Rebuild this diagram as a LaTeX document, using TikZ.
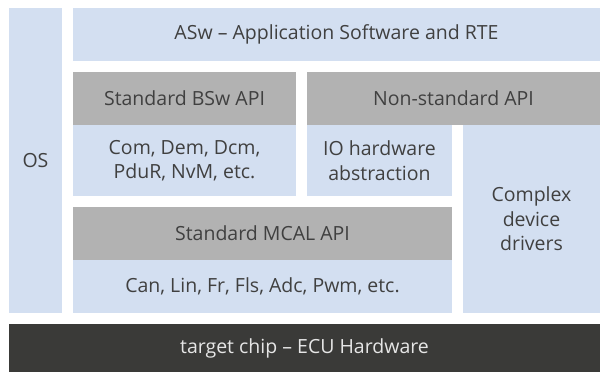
\documentclass[tikz,border=0pt]{standalone}
\usepackage{fontspec}
\setmainfont{Open Sans}
\definecolor{lblue}{HTML}{D3DFF1}
\definecolor{mgray}{HTML}{B2B2B2}
\definecolor{dgray}{HTML}{3A3A38}
\definecolor{tgray}{HTML}{404040}
\definecolor{wtxt}{HTML}{E6E6E6}
\begin{document}
\begin{tikzpicture}[x=1pt,y=-1pt,
  blk/.style={anchor=north west, inner sep=0pt, outer sep=0pt, text=tgray,
    font=\fontsize{19.5}{24.5}\selectfont, align=center},
  lb/.style={blk, fill=lblue},
  gb/.style={blk, fill=mgray},
  db/.style={blk, fill=dgray, text=wtxt}]
\useasboundingbox[fill=white] (0,0) rectangle (600,372);
\node[lb, minimum width=53pt, minimum height=305pt] (os) at (9,8) {OS};
\node[lb, minimum width=527pt, minimum height=53pt] (asw) at (73,8) {ASw -- Application Software and RTE};
\node[gb, minimum width=223pt, minimum height=53pt] (bsw) at (73,72) {Standard BSw API};
\node[lb, minimum width=223pt, minimum height=71pt] (com) at (73,125) {Com, Dem, Dcm,\\PduR, NvM, etc.};
\node[gb, minimum width=293pt, minimum height=53pt] (nsa) at (307,72) {Non-standard API};
\node[lb, minimum width=145pt, minimum height=71pt] (io) at (307,125) {IO hardware\\abstraction};
\node[lb, minimum width=137pt, minimum height=188pt] (cdd) at (463,125) {Complex\\device\\drivers};
\node[gb, minimum width=379pt, minimum height=53pt] (mcal) at (73,207) {Standard MCAL API};
\node[lb, minimum width=379pt, minimum height=53pt] (can) at (73,260) {Can, Lin, Fr, Fls, Adc, Pwm, etc.};
\node[db, minimum width=591pt, minimum height=48pt] (chip) at (9,324) {target chip -- ECU Hardware};
\end{tikzpicture}
\end{document}
